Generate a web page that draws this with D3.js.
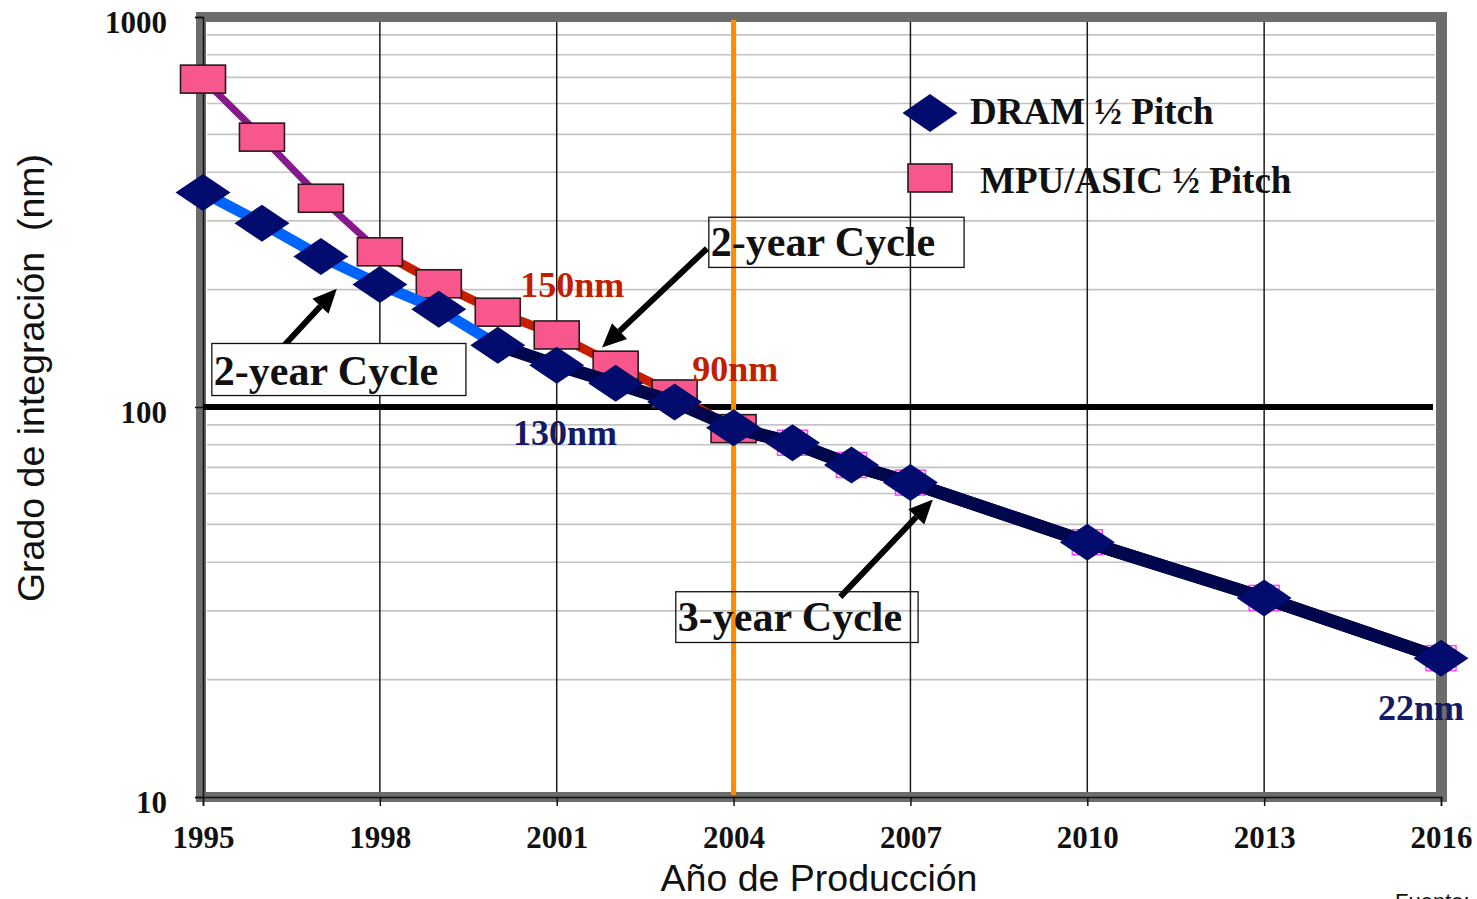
<!DOCTYPE html>
<html>
<head>
<meta charset="utf-8">
<script src="https://cdn.jsdelivr.net/npm/d3@7"></script>
<style>
  html, body { margin: 0; padding: 0; background: #fff; overflow: hidden; }
  svg { display: block; }
</style>
</head>
<body>
<svg id="chart" width="1477" height="899"></svg>
<script>
// ---------------- DATA ----------------
const years      = [1995, 1996, 1997, 1998, 1999, 2000, 2001, 2002, 2003, 2004, 2005, 2006, 2007, 2010, 2013, 2016];
const dramPitch  = [355, 296, 243, 206, 178, 144, 128, 115, 103, 88.5, 81, 71, 64, 45, 32.4, 22.7];
const mpuPitch   = [693, 492, 343, 250, 207, 175, 153, 128, 108, 88, 81, 71, 64, 45, 32.4, 22.7];
const xTickYears = [1995, 1998, 2001, 2004, 2007, 2010, 2013, 2016];
const yTickVals  = [10, 100, 1000];
const yTickLabels = ["10", "100", "1000"];
const seriesNames = ["DRAM \u00BD Pitch", "MPU/ASIC \u00BD Pitch"];
const nodeLabels = [
  { text: "150nm", year: 2000.38, value: 191, color: "#c41e00" },
  { text: "90nm",  year: 2003.30, value: 116.3, color: "#c41e00" },
  { text: "130nm", year: 2000.26, value: 80.1, color: "#141a66" },
  { text: "22nm",  year: 2014.93, value: 15.8, color: "#141a66" }
];
const cycleBoxes = [
  { text: "2-year Cycle", y0: 1995.15, y1: 1999.46, vTop: 145.5, vBot: 107.0, fill: "#ffffff" },
  { text: "2-year Cycle", y0: 2003.58, y1: 2007.91, vTop: 306.6, vBot: 228.0, fill: "none" },
  { text: "3-year Cycle", y0: 2003.02, y1: 2007.13, vTop: 33.6,  vBot: 24.9,  fill: "none" }
];
const cycleArrows = [
  { fromYear: 1996.36, fromVal: 143,  toYear: 1997.27, toVal: 201 },
  { fromYear: 2003.55, fromVal: 255,  toYear: 2001.77, toVal: 142 },
  { fromYear: 2005.81, fromVal: 32.6, toYear: 2007.38, toVal: 57.9 }
];
const markerYear = 2004;
const refValue = 100;

// ---------------- SCALES ----------------
const svg = d3.select("#chart");
const x = d3.scaleLinear().domain([1995, 2016]).range([203, 1441]);
const y = d3.scaleLog().domain([10, 1000]).range([797, 17]);

const serif = "'Liberation Serif', 'Times New Roman', serif";
const sans = "'Liberation Sans', Arial, sans-serif";

// ---------------- GRID ----------------
const minor = y.ticks().filter(v => yTickVals.indexOf(v) < 0);
svg.append("g").selectAll("line").data(minor).join("line")
  .attr("x1", x(1995) + 4).attr("x2", x(2016) - 6)
  .attr("y1", d => y(d)).attr("y2", d => y(d))
  .attr("stroke", "#c4c4c4").attr("stroke-width", 1.6);

svg.append("g").selectAll("line").data(xTickYears.slice(1, -1)).join("line")
  .attr("x1", d => x(d)).attr("x2", d => x(d))
  .attr("y1", y(1000)).attr("y2", y(10))
  .attr("stroke", "#1a1a1a").attr("stroke-width", 1.5);

// ---------------- FRAME ----------------
svg.append("rect")
  .attr("x", x(1995) - 2).attr("y", y(1000))
  .attr("width", x(2016) - x(1995) + 2).attr("height", y(10) - y(1000))
  .attr("fill", "none").attr("stroke", "#6b6d6a").attr("stroke-width", 10);
svg.append("line")
  .attr("x1", x(2016) + 3).attr("x2", x(2016) + 3)
  .attr("y1", y(1000) - 5).attr("y2", y(10) + 5)
  .attr("stroke", "#6b6d6a").attr("stroke-width", 6);

// axes (black lines + ticks)
const xAxis = d3.axisBottom(x).tickValues(xTickYears).tickSize(9).tickFormat(d3.format("d"));
const gx = svg.append("g").attr("transform", `translate(0,${y(10)})`).call(xAxis);
gx.select(".domain").attr("stroke", "#111").attr("stroke-width", 1.5);
gx.selectAll(".tick line").attr("stroke", "#111").attr("stroke-width", 1.5);
gx.selectAll(".tick text")
  .attr("y", 29).attr("font-family", serif).attr("font-weight", "bold")
  .attr("font-size", 31).attr("fill", "#111");

const yAxis = d3.axisLeft(y).tickValues(yTickVals).tickSize(8)
  .tickFormat((d, i) => yTickLabels[i]);
const gy = svg.append("g").attr("transform", `translate(${x(1995)},0)`).call(yAxis);
gy.select(".domain").attr("stroke", "#111").attr("stroke-width", 1.5);
gy.selectAll(".tick line").attr("stroke", "#111").attr("stroke-width", 1.5);
gy.selectAll(".tick text")
  .attr("x", -36).attr("dy", "0.5em").attr("font-family", serif).attr("font-weight", "bold")
  .attr("font-size", 31).attr("fill", "#111");

// reference lines
svg.append("line")
  .attr("x1", x(1995)).attr("x2", x(2016) - 8)
  .attr("y1", y(refValue)).attr("y2", y(refValue))
  .attr("stroke", "#000").attr("stroke-width", 6);
svg.append("line")
  .attr("x1", x(markerYear)).attr("x2", x(markerYear))
  .attr("y1", y(1000) + 3).attr("y2", y(10) - 2)
  .attr("stroke", "#ff8c00").attr("stroke-width", 5);

// ---------------- SERIES ----------------
const pts = (vals) => years.map((yr, i) => [x(yr), y(vals[i])]);
const lineGen = d3.line();
const mpuPts = pts(mpuPitch);
const dramPts = pts(dramPitch);
const idx = yr => years.indexOf(yr);

// MPU line segments
svg.append("path").attr("d", lineGen(mpuPts.slice(0, idx(1998) + 1)))
  .attr("fill", "none").attr("stroke", "#861a8c").attr("stroke-width", 7);
svg.append("path").attr("d", lineGen(mpuPts.slice(idx(1998), idx(2004) + 1)))
  .attr("fill", "none").attr("stroke", "#c81e00").attr("stroke-width", 9);
svg.append("path").attr("d", lineGen(mpuPts.slice(idx(2004))))
  .attr("fill", "none").attr("stroke", "#00064c").attr("stroke-width", 13);

// MPU markers
svg.append("g").selectAll("rect").data(years.map((yr, i) => ({ yr, v: mpuPitch[i] }))).join("rect")
  .each(function(d) {
    const big = d.yr <= 2004;
    const w = big ? 45 : 30, h = big ? 28 : 25;
    d3.select(this)
      .attr("x", x(d.yr) - w / 2).attr("y", y(d.v) - h / 2)
      .attr("width", w).attr("height", h)
      .attr("fill", big ? "#f7578c" : "none")
      .attr("stroke", big ? "#2a1a1a" : "#ff40ff")
      .attr("stroke-width", big ? 1.6 : 1.5);
  });

// DRAM line segments
svg.append("path").attr("d", lineGen(dramPts.slice(0, idx(2000) + 1)))
  .attr("fill", "none").attr("stroke", "#0064ff").attr("stroke-width", 11);
svg.append("path").attr("d", lineGen(dramPts.slice(idx(2000))))
  .attr("fill", "none").attr("stroke", "#00064c").attr("stroke-width", 13);

// DRAM markers (diamonds)
const diamond = (cx, cy, hw, hh) => `M${cx},${cy - hh}L${cx + hw},${cy}L${cx},${cy + hh}L${cx - hw},${cy}Z`;
svg.append("g").selectAll("path").data(years.map((yr, i) => ({ yr, v: dramPitch[i] }))).join("path")
  .attr("d", d => diamond(x(d.yr), y(d.v), 27.5, 18.5))
  .attr("fill", "#020b6e");

// ---------------- LEGEND ----------------
svg.append("path").attr("d", diamond(930, 113, 27.5, 19)).attr("fill", "#020b6e");
svg.append("text").attr("x", 970).attr("y", 124).text(seriesNames[0])
  .attr("font-family", serif).attr("font-weight", "bold").attr("font-size", 37).attr("fill", "#111");
svg.append("rect").attr("x", 908).attr("y", 164).attr("width", 44).attr("height", 28)
  .attr("fill", "#f7578c").attr("stroke", "#2a1a1a").attr("stroke-width", 1.6);
svg.append("text").attr("x", 980).attr("y", 193).text(seriesNames[1])
  .attr("font-family", serif).attr("font-weight", "bold").attr("font-size", 37).attr("fill", "#111");

// ---------------- ANNOTATIONS ----------------
nodeLabels.forEach(l => {
  svg.append("text").attr("x", x(l.year)).attr("y", y(l.value)).text(l.text)
    .attr("font-family", serif).attr("font-weight", "bold").attr("font-size", 36)
    .attr("fill", l.color);
});

cycleArrows.forEach(a => {
  const x0 = x(a.fromYear), y0 = y(a.fromVal), x1 = x(a.toYear), y1 = y(a.toVal);
  const ang = Math.atan2(y1 - y0, x1 - x0);
  const hl = 24, hw = 11;
  const bx = x1 - hl * Math.cos(ang), by = y1 - hl * Math.sin(ang);
  svg.append("line").attr("x1", x0).attr("y1", y0).attr("x2", bx).attr("y2", by)
    .attr("stroke", "#000").attr("stroke-width", 6);
  const px = -Math.sin(ang), py = Math.cos(ang);
  svg.append("path")
    .attr("d", `M${x1},${y1}L${bx + px * hw},${by + py * hw}L${bx - px * hw},${by - py * hw}Z`)
    .attr("fill", "#000");
});

cycleBoxes.forEach(b => {
  const bx0 = x(b.y0), bx1 = x(b.y1), byT = y(b.vTop), byB = y(b.vBot);
  svg.append("rect").attr("x", bx0).attr("y", byT).attr("width", bx1 - bx0).attr("height", byB - byT)
    .attr("fill", b.fill).attr("stroke", "#111").attr("stroke-width", 1.3);
  svg.append("text").attr("x", bx0 + 2).attr("y", byB - 11).text(b.text)
    .attr("font-family", serif).attr("font-weight", "bold").attr("font-size", 42).attr("fill", "#111");
});

// ---------------- TITLES ----------------
svg.append("text").attr("x", 819).attr("y", 891).attr("text-anchor", "middle")
  .text("A\u00F1o de Producci\u00F3n")
  .attr("font-family", sans).attr("font-size", 37.5).attr("fill", "#111");
svg.append("text").attr("transform", "translate(44,378) rotate(-90)").attr("text-anchor", "middle")
  .text("Grado de integraci\u00F3n  (nm)").attr("xml:space", "preserve").style("white-space", "pre")
  .attr("font-family", sans).attr("font-size", 37.5).attr("fill", "#111");
svg.append("text").attr("x", 1395).attr("y", 909).text("Fuente:")
  .attr("font-family", sans).attr("font-size", 22).attr("fill", "#111");
</script>
</body>
</html>
